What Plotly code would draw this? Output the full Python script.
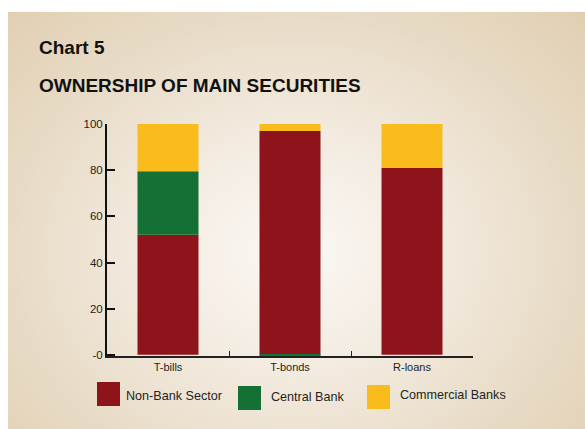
import base64
import plotly.graph_objects as go

# ---- data ----
categories = ["T-bills", "T-bonds", "R-loans"]
non_bank = [52.0, 97.0, 81.0]
central_bank = [27.5, -0.5, 0.0]
commercial = [20.5, 3.0, 19.0]
series_names = ["Non-Bank Sector", "Central Bank", "Commercial Banks"]
y_tickvals = [0, 20, 40, 60, 80, 100]
y_ticktext = ["-0", "20", "40", "60", "80", "100"]

colors = ["#8e141b", "#157036", "#f9bc1c"]
W, H = 585, 429
ML, MR, MT, MB = 107, 112, 124, 73
PW, PH = W - ML - MR, H - MT - MB
FONT = "Liberation Sans, Arial, sans-serif"
TXT = "#231f20"


def px2x(px):
    return (px - ML) / PW


def py2y(py):
    return (H - MB - py) / PH


fig = go.Figure()
for name, vals, col in zip(series_names, [non_bank, central_bank, commercial], colors):
    fig.add_trace(go.Bar(x=categories, y=vals, name=name, marker_color=col,
                         marker_line_width=0, width=0.5, showlegend=False))

# background radial gradient
bw, bh = W - 8, H - 12
svg = f'''<svg xmlns="http://www.w3.org/2000/svg" width="{bw}" height="{bh}" viewBox="0 0 {bw} {bh}">
<defs><radialGradient id="g" gradientUnits="userSpaceOnUse" cx="285" cy="240" r="400" gradientTransform="translate(285 240) scale(1 0.85) translate(-285 -240)">
<stop offset="0" stop-color="#fbf8f4"/>
<stop offset="0.35" stop-color="#f3ebe0"/>
<stop offset="0.7" stop-color="#e8dbc6"/>
<stop offset="1" stop-color="#e1cfb2"/>
</radialGradient></defs>
<rect x="0" y="0" width="{bw}" height="{bh}" fill="url(#g)"/>
</svg>'''
src = "data:image/svg+xml;base64," + base64.b64encode(svg.encode()).decode()
fig.add_layout_image(dict(source=src, xref="paper", yref="paper",
                          x=px2x(8), y=py2y(12), sizex=bw / PW, sizey=bh / PH,
                          xanchor="left", yanchor="top", sizing="stretch", layer="below"))

# legend (manual, large squares)
legend_boxes = [(97, 382, 120, 406, 124, 396), (238, 386, 261, 410, 269, 397), (367, 385, 390, 409, 398, 395)]
for (x0, y0, x1, y1, tx, ty), name, col in zip(legend_boxes, series_names, colors):
    fig.add_shape(type="rect", xref="paper", yref="paper", x0=px2x(x0), x1=px2x(x1),
                  y0=py2y(y1), y1=py2y(y0), fillcolor=col, line_width=0)
    fig.add_annotation(text=name, xref="paper", yref="paper", x=px2x(tx), y=py2y(ty),
                       xanchor="left", yanchor="middle", showarrow=False,
                       font=dict(family=FONT, size=12.6, color=TXT))

# titles
fig.add_annotation(text="<b>Chart 5</b>", xref="paper", yref="paper", x=px2x(37), y=py2y(48),
                   xanchor="left", yanchor="middle", showarrow=False,
                   font=dict(family=FONT, size=19, color="#111"))
fig.add_annotation(text="<b>OWNERSHIP OF MAIN SECURITIES</b>", xref="paper", yref="paper",
                   x=px2x(37), y=py2y(85), xanchor="left", yanchor="middle", showarrow=False,
                   font=dict(family=FONT, size=19, color="#111"))

fig.update_layout(
    width=W, height=H, barmode="relative",
    margin=dict(l=ML, r=MR, t=MT, b=MB, pad=0),
    paper_bgcolor="white", plot_bgcolor="rgba(0,0,0,0)",
    showlegend=False,
    xaxis=dict(range=[-0.5, 2.5], showgrid=False, zeroline=False, showline=True,
               linecolor="#222", linewidth=1.5, ticks="inside", ticklen=5, tickwidth=1.2,
               tickcolor="#222", tickson="boundaries",
               tickfont=dict(family=FONT, size=11, color=TXT)),
    yaxis=dict(range=[-0.5, 100], showgrid=False, zeroline=False, showline=True,
               linecolor="#111", linewidth=2, ticks="inside", ticklen=8, tickwidth=1.5,
               tickcolor="#111", tickvals=y_tickvals, ticktext=y_ticktext,
               tickfont=dict(family=FONT, size=11.5, color=TXT)),
)

fig.write_html("out.html")
